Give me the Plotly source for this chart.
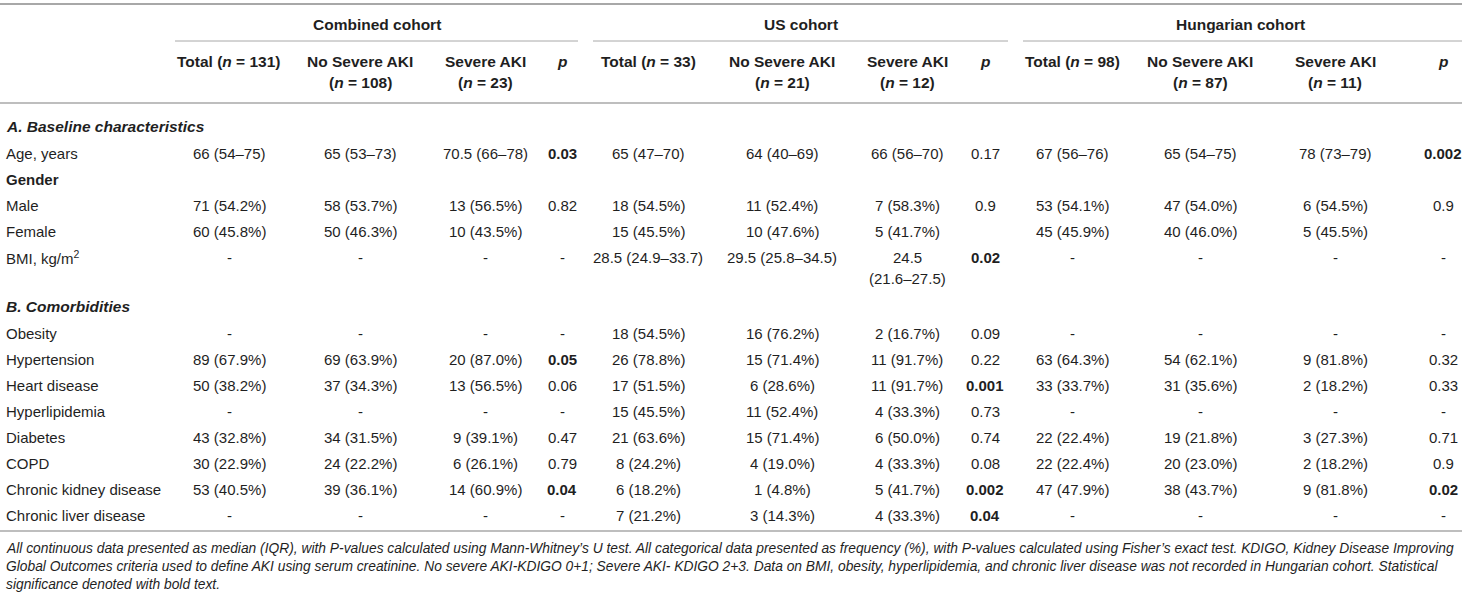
import plotly.graph_objects as go

# ---------------- data ----------------
cohorts = ["Combined cohort", "US cohort", "Hungarian cohort"]
col_headers = [
    ["Total (<i>n</i> = 131)", "No Severe AKI<br>(<i>n</i> = 108)", "Severe AKI<br>(<i>n</i> = 23)", "<i>p</i>"],
    ["Total (<i>n</i> = 33)", "No Severe AKI<br>(<i>n</i> = 21)", "Severe AKI<br>(<i>n</i> = 12)", "<i>p</i>"],
    ["Total (<i>n</i> = 98)", "No Severe AKI<br>(<i>n</i> = 87)", "Severe AKI<br>(<i>n</i> = 11)", "<i>p</i>"],
]
section_a = "A. Baseline characteristics"
section_b = "B. Comorbidities"
row_labels = ["Age, years", "Gender", "Male", "Female", "BMI, kg/m<sup>2</sup>",
              "Obesity", "Hypertension", "Heart disease", "Hyperlipidemia", "Diabetes",
              "COPD", "Chronic kidney disease", "Chronic liver disease"]
bold_labels = ["Gender"]

comb_total = ["66 (54–75)", "", "71 (54.2%)", "60 (45.8%)", "-", "-", "89 (67.9%)", "50 (38.2%)", "-", "43 (32.8%)", "30 (22.9%)", "53 (40.5%)", "-"]
comb_nosev = ["65 (53–73)", "", "58 (53.7%)", "50 (46.3%)", "-", "-", "69 (63.9%)", "37 (34.3%)", "-", "34 (31.5%)", "24 (22.2%)", "39 (36.1%)", "-"]
comb_sev = ["70.5 (66–78)", "", "13 (56.5%)", "10 (43.5%)", "-", "-", "20 (87.0%)", "13 (56.5%)", "-", "9 (39.1%)", "6 (26.1%)", "14 (60.9%)", "-"]
comb_p = ["0.03", "", "0.82", "", "-", "-", "0.05", "0.06", "-", "0.47", "0.79", "0.04", "-"]

us_total = ["65 (47–70)", "", "18 (54.5%)", "15 (45.5%)", "28.5 (24.9–33.7)", "18 (54.5%)", "26 (78.8%)", "17 (51.5%)", "15 (45.5%)", "21 (63.6%)", "8 (24.2%)", "6 (18.2%)", "7 (21.2%)"]
us_nosev = ["64 (40–69)", "", "11 (52.4%)", "10 (47.6%)", "29.5 (25.8–34.5)", "16 (76.2%)", "15 (71.4%)", "6 (28.6%)", "11 (52.4%)", "15 (71.4%)", "4 (19.0%)", "1 (4.8%)", "3 (14.3%)"]
us_sev = ["66 (56–70)", "", "7 (58.3%)", "5 (41.7%)", "24.5<br>(21.6–27.5)", "2 (16.7%)", "11 (91.7%)", "11 (91.7%)", "4 (33.3%)", "6 (50.0%)", "4 (33.3%)", "5 (41.7%)", "4 (33.3%)"]
us_p = ["0.17", "", "0.9", "", "0.02", "0.09", "0.22", "0.001", "0.73", "0.74", "0.08", "0.002", "0.04"]

hu_total = ["67 (56–76)", "", "53 (54.1%)", "45 (45.9%)", "-", "-", "63 (64.3%)", "33 (33.7%)", "-", "22 (22.4%)", "22 (22.4%)", "47 (47.9%)", "-"]
hu_nosev = ["65 (54–75)", "", "47 (54.0%)", "40 (46.0%)", "-", "-", "54 (62.1%)", "31 (35.6%)", "-", "19 (21.8%)", "20 (23.0%)", "38 (43.7%)", "-"]
hu_sev = ["78 (73–79)", "", "6 (54.5%)", "5 (45.5%)", "-", "-", "9 (81.8%)", "2 (18.2%)", "-", "3 (27.3%)", "2 (18.2%)", "9 (81.8%)", "-"]
hu_p = ["0.002", "", "0.9", "", "-", "-", "0.32", "0.33", "-", "0.71", "0.9", "0.02", "-"]

footnote = ("All continuous data presented as median (IQR), with P-values calculated using Mann-Whitney’s U test. "
            "All categorical data presented as frequency (%), with P-values calculated using Fisher’s exact test. KDIGO, Kidney Disease Improving<br>"
            "Global Outcomes criteria used to define AKI using serum creatinine. No severe AKI-KDIGO 0+1; Severe AKI- KDIGO 2+3. "
            "Data on BMI, obesity, hyperlipidemia, and chronic liver disease was not recorded in Hungarian cohort. Statistical<br>"
            "significance denoted with bold text.")

# ---------------- layout constants ----------------
W, H = 1462, 607
FONT = "Liberation Sans, Arial, Helvetica, sans-serif"
TXT = "#1f1f1f"
LINE = "#a8a8a8"
FS = 15
FS_HEAD = 15.5

col_x = [[229, 360, 485, 562], [648, 782, 907, 985], [1072, 1200, 1335, 1443]]
group_title_x = [377, 801, 1240]
group_line = [(175, 578), (593, 1008), (1023, 1462)]
label_x = 4
row_y = [153, 179, 205, 231, 257, 333, 359, 385, 411, 437, 463, 489, 515]
sec_a_y, sec_b_y = 126, 306
header_y1, line_gap = 61, 21.5

data_cols = [[comb_total, comb_nosev, comb_sev, comb_p],
             [us_total, us_nosev, us_sev, us_p],
             [hu_total, hu_nosev, hu_sev, hu_p]]

ann = []


def add(text, x, y, bold=False, italic=False, xanchor="center", size=FS):
    t = text
    if italic:
        t = "<i>" + t + "</i>"
    if bold:
        t = "<b>" + t + "</b>"
    ann.append(dict(text=t, x=x, y=y, xref="x", yref="y", xanchor=xanchor, yanchor="middle",
                    showarrow=False, font=dict(family=FONT, size=size, color=TXT)))


def add_lines(text, x, y, bold=False, xanchor="center", size=FS):
    for k, part in enumerate(text.split("<br>")):
        add(part, x, y + k * line_gap, bold=bold, xanchor=xanchor, size=size)


# group titles and column headers
for g, title in enumerate(cohorts):
    add(title, group_title_x[g], 24, bold=True, size=FS_HEAD)
    for c, h in enumerate(col_headers[g]):
        add_lines(h, col_x[g][c], header_y1, bold=True, size=FS_HEAD)

# section headers
add(section_a, label_x, sec_a_y, bold=True, italic=True, xanchor="left", size=FS_HEAD)
add(section_b, label_x, sec_b_y, bold=True, italic=True, xanchor="left", size=FS_HEAD)

# row labels
for r, lab in enumerate(row_labels):
    add(lab, label_x, row_y[r], bold=lab in bold_labels, xanchor="left")


def is_sig(v):
    try:
        return float(v) <= 0.05
    except ValueError:
        return False


for g in range(3):
    for c in range(4):
        vals = data_cols[g][c]
        for r, v in enumerate(vals):
            if not v:
                continue
            add_lines(v, col_x[g][c], row_y[r], bold=(c == 3 and is_sig(v)))

# footnote
for k, part in enumerate(footnote.split("<br>")):
    add(part, label_x, 548 + k * 18, italic=True, xanchor="left", size=13.8)

shapes = [
    dict(type="line", xref="paper", yref="y", x0=0, x1=1, y0=4, y1=4, line=dict(color=LINE, width=2)),
    dict(type="line", xref="paper", yref="y", x0=0, x1=1, y0=103, y1=103, line=dict(color=LINE, width=1.5)),
    dict(type="line", xref="paper", yref="y", x0=0, x1=1, y0=531, y1=531, line=dict(color=LINE, width=1.5)),
]
for (a, b) in group_line:
    shapes.append(dict(type="line", xref="x", yref="y", x0=a, x1=b, y0=41, y1=41,
                       line=dict(color=LINE, width=1)))

fig = go.Figure()
fig.update_layout(
    width=W, height=H,
    margin=dict(l=0, r=0, t=0, b=0),
    paper_bgcolor="white", plot_bgcolor="white",
    xaxis=dict(range=[0, W], visible=False, fixedrange=True),
    yaxis=dict(range=[H, 0], visible=False, fixedrange=True),
    annotations=ann, shapes=shapes, showlegend=False,
)
fig.write_html("out.html", config={"displayModeBar": False},
               post_script="document.body.style.margin='0';document.body.style.overflow='hidden';")
